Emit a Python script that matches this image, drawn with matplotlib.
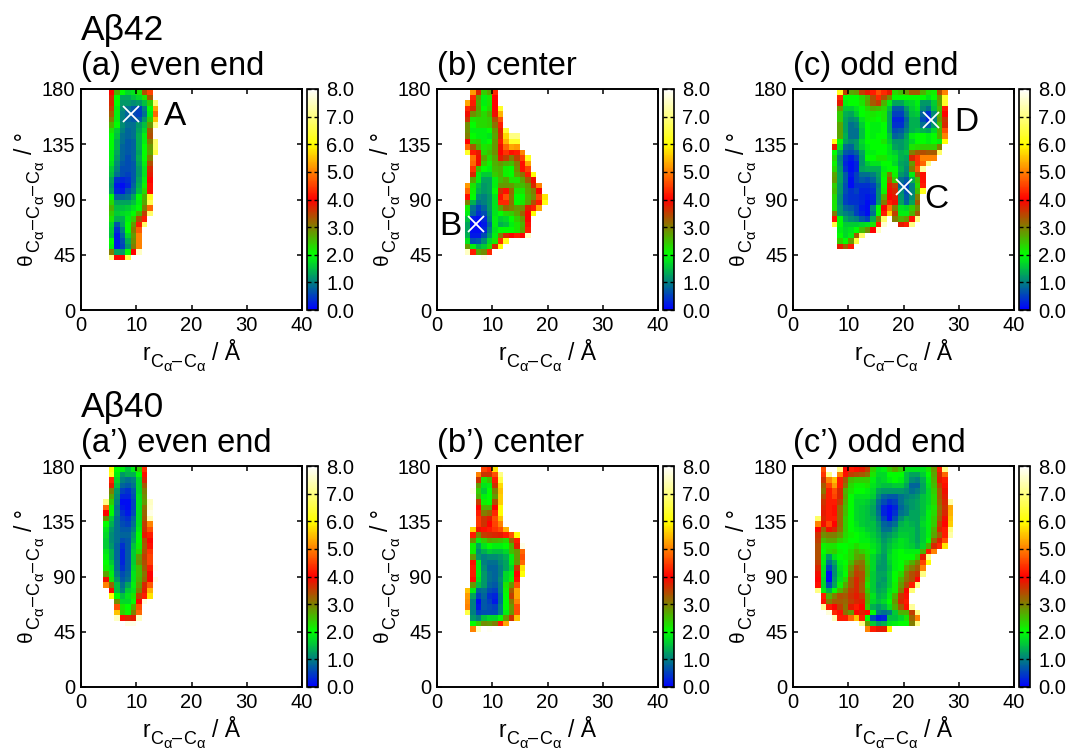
import numpy as np
import matplotlib
matplotlib.use("Agg")
import matplotlib.pyplot as plt
from matplotlib.colors import LinearSegmentedColormap

plt.rcParams['font.family'] = ['Liberation Sans', 'DejaVu Sans']

nan = float('nan')

# first r bin of each row, rows run from theta=180 downwards (1 A x 4.5 deg bins)
a42_first = [5]*24 + [5]*7
a42_rows = [
    [4.0,2.6,2.0,1.7,1.8,2.2,3.4,4.5],
    [3.7,2.0,1.3,1.3,1.5,1.7,2.2,3.3],
    [3.7,2.0,1.2,1.2,1.1,1.2,1.5,2.4,6.8],
    [3.5,1.9,1.1,0.9,0.7,0.5,1.0,2.0,5.3],
    [3.3,1.9,1.0,0.8,0.6,0.5,0.9,1.9,4.8],
    [3.0,1.9,1.0,0.8,0.7,0.7,1.2,2.4,5.5],
    [2.6,2.0,1.1,0.9,0.9,1.2,1.5,2.8,7.0],
    [2.2,1.6,1.0,0.8,0.9,1.3,1.7,3.3],
    [2.0,1.5,0.9,0.8,0.9,1.4,1.9,3.4],
    [2.0,1.4,0.9,0.7,0.8,1.4,1.9,3.0,6.8],
    [2.0,1.4,0.8,0.7,0.8,1.4,2.0,2.8,6.8],
    [1.9,1.3,0.8,0.7,0.8,1.3,2.0,2.7,6.5],
    [1.9,1.2,0.8,0.6,0.8,1.4,2.0,3.0],
    [1.8,1.1,0.7,0.6,0.7,1.3,1.9,3.4],
    [1.6,1.0,0.6,0.6,0.7,1.2,1.8,3.7],
    [1.5,0.9,0.6,0.5,0.7,1.2,1.8,3.8],
    [1.3,0.4,0.3,0.4,0.7,1.3,1.9,4.0],
    [1.2,0.2,0.1,0.3,0.8,1.4,2.1,4.1],
    [1.3,0.3,0.2,0.6,0.9,1.5,2.3,4.1],
    [2.0,0.8,0.8,0.9,1.3,2.0,2.6,6.2],
    [2.3,1.3,1.3,1.3,1.5,1.9,2.7,6.6],
    [2.6,1.5,1.5,1.6,1.8,2.0,3.0,4.8],
    [2.4,1.6,1.7,1.8,2.0,2.6,3.5,6.8],
    [2.2,1.4,1.4,1.9,2.4,3.4,4.2],
    [1.7,0.7,1.3,2.0,2.8,4.2,6.8],
    [1.6,0.4,1.0,2.0,3.0,4.7],
    [1.5,0.2,0.8,1.7,2.8,5.0],
    [2.0,0.2,0.6,1.4,2.9,5.0],
    [1.9,0.2,0.5,1.2,3.0,5.0],
    [3.0,1.3,1.2,2.0,4.0,7.5],
    [7.0,4.0,4.0,6.5],
]

b42_first = [6,6,5,5,5,5,5,5,5,5,5,5,6,6,6,6,6,5,5,5,5,5,5,5,5,5,5,5,5,5,7]
b42_rows = [
    [5.2,3.7,2.4,2.7,4.3],
    [4.3,2.8,1.9,2.2,4.0],
    [5.3,4.2,2.6,1.9,2.2,4.0],
    [4.3,3.7,2.7,2.0,2.3,4.0,6.3],
    [3.9,2.9,2.6,2.3,2.6,3.9,5.4],
    [3.6,2.2,2.3,2.3,2.4,3.4,4.6],
    [2.9,2.0,2.3,2.3,2.4,3.1,4.2],
    [2.9,1.9,1.9,1.9,2.0,2.8,3.8,6.4],
    [3.0,2.0,1.9,1.9,1.8,2.7,3.7,5.7,7.0,7.0],
    [4.0,2.3,2.4,1.9,2.0,2.8,4.2,5.4,6.3,6.3],
    [4.8,3.3,2.6,2.2,2.3,2.8,3.9,4.8,5.3,5.2],
    [6.3,4.2,3.8,2.3,2.5,2.9,4.0,4.4,4.1,4.2,5.0],
    [4.9,3.9,2.7,2.3,2.7,3.8,3.5,3.0,3.5,4.5,6.2],
    [4.8,3.9,2.4,2.1,2.6,2.8,2.6,2.5,3.0,4.1,5.3],
    [4.4,2.5,2.0,1.9,2.5,2.6,2.1,2.0,2.9,4.1,4.5],
    [3.7,1.9,1.6,1.6,2.4,2.6,2.1,2.0,2.7,3.1,4.2,6.0],
    [2.7,1.9,1.3,1.3,1.9,2.5,2.7,2.2,2.2,2.7,3.3,3.9],
    [5.2,2.2,1.5,1.2,1.3,1.9,2.8,2.8,2.8,2.5,2.5,2.8,3.7,5.0],
    [4.8,2.1,1.4,1.2,1.3,2.0,3.6,4.1,3.2,2.2,2.2,2.7,3.0,4.0],
    [4.1,2.0,1.1,1.0,1.2,1.8,4.1,4.6,3.1,2.0,2.0,2.6,2.9,4.5,5.8],
    [3.0,1.4,0.9,1.0,1.2,1.8,4.3,4.3,3.1,2.0,2.2,2.7,3.4,4.2,6.1],
    [2.1,0.9,0.5,0.8,1.2,1.8,2.7,3.2,3.0,2.8,2.9,3.8,4.2,5.3],
    [1.9,0.8,0.4,0.6,1.1,1.8,2.0,2.3,2.4,2.7,3.2,4.0,6.0],
    [1.5,0.2,0.1,0.3,1.0,1.9,1.6,1.7,2.0,2.4,2.8,4.0],
    [1.3,0.1,0.0,0.2,0.8,1.9,1.4,1.5,1.9,2.2,2.6,4.1],
    [1.3,0.1,0.1,0.3,1.0,1.8,2.0,2.0,2.0,2.2,2.7,4.2],
    [1.4,0.2,0.2,0.6,1.2,1.9,3.0,3.7,4.0,4.2,4.0,7.5],
    [1.8,0.6,0.7,1.1,1.7,2.2,4.4,6.2],
    [2.8,1.9,1.4,1.6,2.3,3.7,6.0],
    [7.5,4.2,2.7,2.9,4.3],
    [8.0,7.8],
]

c42_first = [8]*9 + [7]*16 + [8,8,8,8]
c42_rows = [
    [6.2,3.5,2.7,2.8,3.5,3.8,4.2,4.6,4.3,3.8,2.3,2.5,2.8,3.3,3.3,2.6,2.2,2.1,3.4,5.0],
    [4.3,2.0,2.0,2.0,2.3,2.6,3.4,4.3,3.4,2.9,2.0,2.0,2.0,2.0,2.0,2.0,1.8,2.0,2.8,6.3],
    [3.8,1.9,2.0,2.0,2.2,2.7,3.3,3.5,2.6,1.9,1.3,1.3,1.6,1.7,1.9,1.2,1.2,1.6,2.7,6.3],
    [2.8,1.6,1.6,1.8,2.0,2.3,2.6,2.5,2.3,1.5,0.7,0.7,1.2,1.6,1.8,1.1,0.9,1.5,2.5,4.2],
    [2.4,1.4,1.3,1.6,2.0,2.1,2.2,2.1,2.2,1.3,0.5,0.5,1.0,1.5,1.6,0.8,0.4,1.1,2.6,4.0],
    [2.4,1.3,1.1,1.2,1.8,2.1,2.1,2.0,2.2,1.3,0.3,0.3,0.8,1.4,1.4,0.6,0.3,1.0,2.8,3.6],
    [2.7,1.3,0.9,1.0,1.6,2.0,1.9,1.9,2.0,1.3,0.4,0.4,0.9,1.4,1.4,0.9,0.7,1.2,2.5,3.7],
    [2.7,1.3,0.9,0.9,1.5,2.0,1.9,1.9,2.0,1.3,0.6,0.7,1.0,1.4,1.5,1.4,1.3,1.7,2.6,4.6],
    [2.7,1.4,0.9,0.9,1.5,2.0,1.9,2.0,2.0,1.5,0.8,0.9,1.3,1.9,2.0,2.0,1.9,2.0,2.6,5.0],
    [6.1,2.0,1.3,1.1,1.2,1.7,2.0,2.0,2.0,2.2,1.6,1.2,1.2,1.4,1.7,2.0,2.0,1.9,2.0,1.9,6.0],
    [3.8,1.8,0.9,0.8,1.2,1.6,1.9,2.0,2.0,2.0,1.8,1.3,1.2,1.4,2.2,2.3,2.4,2.4,2.4,3.0],
    [2.0,1.3,0.7,0.6,0.8,1.3,1.9,1.9,2.0,2.0,1.8,1.6,1.4,1.5,3.0,3.3,3.4,3.3,3.3,6.8],
    [2.3,1.0,0.4,0.2,0.5,1.2,2.0,2.0,2.2,2.2,1.9,1.8,1.4,1.3,3.7,4.4,5.0,5.0,5.0],
    [2.1,1.1,0.3,0.1,0.3,1.2,1.6,1.8,1.8,2.0,2.0,1.7,1.3,1.2,2.8,4.4,4.8,7.0],
    [2.3,1.2,0.4,0.1,0.3,1.3,1.4,1.4,1.4,1.9,2.0,2.0,1.4,1.1,3.0,4.7,7.2],
    [2.7,1.3,0.7,0.2,0.5,0.9,0.9,1.0,1.3,2.1,3.0,2.1,1.2,1.0,1.9,3.3,4.1],
    [2.8,1.3,0.7,0.1,0.5,0.7,0.6,0.8,1.2,2.0,3.4,2.4,0.9,0.7,1.4,2.5,4.1],
    [2.4,1.2,0.6,0.1,0.4,0.4,0.4,0.5,1.0,2.0,3.8,3.5,0.8,0.5,1.0,2.3,4.2],
    [2.5,1.2,0.6,0.4,0.5,0.3,0.3,0.4,1.1,2.1,3.9,3.7,1.1,0.6,1.0,2.5,6.2],
    [2.3,1.1,0.5,0.4,0.4,0.3,0.2,0.3,1.1,2.6,4.0,3.8,1.2,0.7,1.1,3.0],
    [2.2,1.1,0.5,0.4,0.4,0.3,0.1,0.3,1.2,3.0,4.2,3.9,1.3,0.8,1.3,3.3],
    [2.2,1.2,0.8,0.7,0.5,0.2,0.1,1.0,2.0,4.0,4.9,3.0,1.8,1.7,2.4,2.9],
    [3.0,1.2,1.0,0.9,0.5,0.3,0.1,0.9,2.0,4.2,5.6,3.5,1.9,1.9,2.6,3.3],
    [4.1,2.0,1.3,1.1,1.0,0.7,0.5,1.4,3.0,6.8,nan,3.0,2.6,2.8,4.1,7.0],
    [6.5,2.0,1.6,1.6,1.6,1.7,1.8,2.2,4.2,7.6,nan,nan,3.8,4.2,7.0],
    [1.9,1.7,1.8,2.0,2.5,2.9,4.0,7.5],
    [2.0,1.7,1.9,3.3,6.8],
    [2.4,2.0,2.8,6.5],
    [3.8,3.3,4.2],
]

a40_first = [5]*6 + [4]*16 + [5,5,6,6,6,6,8]
a40_rows = [
    [6.0,2.0,1.9,1.5,1.9,2.4,4.4],
    [6.2,1.9,1.2,1.4,1.4,2.0,4.1],
    [4.3,1.7,1.0,0.9,1.0,1.7,3.7],
    [3.8,1.5,0.8,0.7,0.9,1.7,3.3],
    [3.0,1.2,0.5,0.4,0.7,1.7,3.0],
    [2.7,1.1,0.3,0.3,0.6,1.8,2.9],
    [7.0,2.4,1.0,0.1,0.1,0.5,1.8,2.8,7.5],
    [4.8,2.1,0.9,0.2,0.1,0.5,1.8,3.1,7.6],
    [4.0,2.0,1.0,0.4,0.2,0.6,1.8,3.2,7.8],
    [2.9,1.6,0.9,0.5,0.4,0.8,1.8,3.3,7.4],
    [2.0,1.4,0.9,0.6,0.5,0.9,1.8,3.5,5.0],
    [1.8,1.2,0.9,0.7,0.7,1.0,1.9,3.6,4.6],
    [1.7,1.1,0.9,0.8,0.8,1.2,2.0,3.8,4.2],
    [1.6,1.1,0.9,0.6,0.7,1.3,2.0,3.4,4.0],
    [1.6,1.2,0.8,0.4,0.7,1.5,2.1,3.3,4.1],
    [1.8,1.4,0.8,0.3,0.7,1.6,2.3,3.4,4.4],
    [1.9,1.4,0.8,0.3,0.7,1.6,2.8,3.5,4.5],
    [2.0,1.6,0.9,0.3,0.7,1.6,2.9,3.4,4.5],
    [2.1,1.8,0.9,0.4,0.7,1.7,2.5,3.3,4.2,7.9],
    [2.7,1.9,1.0,0.6,0.8,1.8,2.5,3.1,4.0,8.0],
    [3.9,2.2,1.2,0.7,0.9,1.8,2.6,3.2,4.0,7.8],
    [5.0,3.2,1.5,0.9,1.3,1.9,2.8,3.7,4.7],
    [4.0,1.5,1.0,1.6,1.8,3.0,3.8,5.4],
    [6.0,2.0,1.5,1.8,2.2,3.5,4.2,5.8],
    [2.9,1.7,1.7,2.0,4.0,7.7],
    [4.6,2.2,2.0,2.6,4.6],
    [5.5,2.4,2.1,3.0,4.8],
    [7.5,4.1,3.7,3.8,7.5],
    [7.8,7.8],
]

b40_first = [8,7,7,7,6,7,7,7,7,7,7,6,6,6,6,6,6,6,6,6,6,6,5,5,5,5,5,6,6,6]
b40_rows = [
    [4.5,4.3,5.8],
    [5.0,3.6,3.6,4.6,7.0],
    [3.6,2.2,2.5,4.2,6.5],
    [2.8,1.8,1.9,3.6,5.7],
    [7.8,2.4,1.6,2.0,3.0,5.5],
    [2.6,1.9,2.0,2.8,5.6],
    [3.5,2.1,2.0,3.4,5.6],
    [4.0,2.6,2.6,4.0,6.0],
    [4.2,3.0,3.2,4.3,6.0],
    [4.4,3.6,3.8,4.6,5.5],
    [4.4,3.6,4.0,4.5,5.0],
    [5.7,3.9,4.1,4.2,4.4,4.6,5.4],
    [4.2,2.9,3.5,3.6,3.7,3.8,4.2,4.6,6.0],
    [2.9,1.9,2.4,2.7,2.6,2.5,2.3,3.2,4.2],
    [2.1,1.3,1.8,2.0,1.9,1.9,2.0,2.6,3.8,7.8],
    [2.1,1.1,1.4,1.6,1.5,1.5,1.7,2.5,2.8,4.8],
    [2.8,1.2,1.0,1.1,1.1,1.2,1.4,1.9,2.8,4.6],
    [4.1,1.9,1.0,0.9,0.9,1.1,1.3,1.9,2.8,4.8],
    [4.2,1.9,1.1,0.8,0.8,1.0,1.3,1.7,3.6,5.8],
    [4.2,1.9,1.2,0.9,0.8,1.0,1.7,1.9,4.0,6.0],
    [4.1,1.8,1.2,0.9,0.8,1.1,1.7,2.1,4.1],
    [2.8,1.5,1.2,0.8,0.7,1.0,2.2,2.8,4.6],
    [5.5,1.9,0.8,0.9,0.6,0.5,1.0,2.1,3.3,5.3],
    [5.2,1.3,0.5,0.8,0.4,0.3,0.9,2.0,3.5,5.3],
    [5.1,1.0,0.1,0.7,0.5,0.2,0.9,2.0,3.0,5.0],
    [5.0,1.0,0.2,0.7,0.6,0.5,1.0,2.0,2.8,4.6],
    [6.5,1.0,0.5,0.6,0.6,0.6,1.0,1.9,2.8,4.6],
    [1.2,1.0,1.5,1.7,1.7,2.0,2.8,3.6,5.5],
    [2.0,2.4,2.9,2.8,3.0,4.2,5.3],
    [5.0,7.5,nan,7.9],
]

c40_first = [5]*9 + [4]*15 + [5,5,6,7,12,13]
c40_rows = [
    [4.6,nan,nan,7.0,4.0,4.2,4.1,3.8,3.5,2.4,1.8,1.9,2.4,2.7,2.4,1.8,1.8,1.8,1.8,2.2,2.8,4.2,7.0],
    [4.4,7.0,nan,5.0,4.1,3.5,3.4,3.3,3.1,2.2,1.7,1.7,2.0,2.0,2.0,1.5,1.3,1.3,1.6,2.0,2.7,3.7,4.8],
    [3.6,5.0,5.5,4.2,3.3,2.5,2.4,2.4,2.4,1.9,1.6,1.7,1.9,2.0,1.9,1.5,1.1,1.0,1.4,1.9,2.6,3.8,4.2],
    [3.3,4.5,5.2,4.2,3.1,2.3,2.1,2.1,2.2,1.8,1.6,1.5,1.5,1.6,1.6,1.3,0.8,0.8,1.3,1.8,2.5,3.5,4.1],
    [3.1,4.2,4.6,3.7,2.6,2.2,2.0,2.0,1.9,1.7,1.3,1.2,1.2,1.2,1.2,1.1,0.9,1.0,1.3,1.7,2.4,3.3,3.9],
    [3.4,4.2,4.5,3.7,2.7,2.0,1.8,1.8,1.8,1.6,1.1,0.8,0.7,0.7,0.9,1.0,1.1,1.2,1.5,1.7,2.3,3.3,3.8],
    [3.6,4.2,4.2,3.5,2.6,2.0,1.7,1.7,1.6,1.4,0.9,0.6,0.4,0.5,0.9,1.1,1.2,1.3,1.5,1.7,2.3,3.2,3.7,7.3],
    [3.7,4.2,4.1,3.2,2.5,2.0,1.7,1.6,1.5,1.3,0.8,0.3,0.1,0.3,0.8,1.0,1.2,1.3,1.5,1.8,2.2,3.1,3.6,5.3],
    [3.8,4.2,4.1,3.2,2.5,2.0,1.7,1.6,1.5,1.3,0.9,0.3,0.1,0.4,0.9,1.0,1.3,1.3,1.5,1.9,2.3,3.2,3.7,5.4],
    [6.8,3.7,4.2,4.2,3.2,2.4,2.0,1.7,1.6,1.5,1.4,1.0,0.5,0.1,0.6,1.1,1.4,1.3,1.3,1.6,1.9,2.4,3.3,3.9,5.5],
    [5.0,3.9,4.5,4.0,3.2,2.4,2.0,1.8,1.6,1.5,1.5,1.2,0.8,0.7,0.9,1.4,1.5,1.4,1.3,1.7,1.9,2.4,3.5,4.0,5.6],
    [4.0,3.2,3.9,3.7,3.1,2.4,2.0,1.9,1.8,1.6,1.5,1.3,0.9,0.9,1.2,1.5,1.5,1.5,1.3,1.6,1.9,2.6,3.7,4.2,7.0],
    [3.6,2.9,3.0,3.0,2.8,2.3,2.1,2.0,1.9,1.8,1.6,1.4,1.1,1.2,1.4,1.6,1.6,1.5,1.3,1.6,1.9,2.7,3.3,4.2,7.3],
    [3.5,2.5,2.7,2.7,2.4,2.2,2.0,2.0,1.9,1.9,1.7,1.5,1.2,1.4,1.6,1.8,1.7,1.5,1.3,1.6,2.0,3.2,3.8,4.6],
    [3.4,2.1,2.2,2.2,2.0,2.0,2.1,2.3,2.1,2.1,1.8,1.6,1.3,1.5,1.7,1.8,1.7,1.6,1.4,1.7,2.6,3.7,4.3,5.8],
    [3.4,2.0,2.3,2.4,2.1,2.0,2.3,2.6,2.4,2.2,1.9,1.6,1.3,1.6,1.9,2.0,1.9,1.9,1.9,2.6,4.2,5.0],
    [3.4,1.9,1.2,1.8,2.0,2.1,2.3,2.7,2.8,2.3,1.7,1.4,1.2,1.7,1.9,2.0,2.0,2.0,2.4,3.8,7.0],
    [3.5,1.9,0.9,1.3,1.9,2.0,2.5,3.0,3.1,2.4,1.7,1.3,1.2,1.6,1.9,2.0,2.3,2.6,3.0,4.5,6.0],
    [3.7,1.8,0.5,1.1,1.8,2.1,2.8,3.4,3.2,2.5,1.7,1.2,1.2,1.5,1.9,2.0,2.7,3.0,3.3,5.0],
    [3.9,1.8,0.1,1.1,1.7,2.0,3.0,3.5,3.4,2.5,1.6,1.3,1.3,1.6,2.0,2.3,3.0,3.4,3.6,7.0],
    [4.0,1.7,0.1,1.2,1.8,2.3,3.3,3.7,3.4,2.4,1.6,1.3,1.2,1.6,2.0,2.6,3.1,3.4,4.0],
    [4.1,1.7,0.6,1.3,2.1,2.7,3.3,3.7,3.3,2.2,1.6,1.2,1.3,1.6,2.1,2.8,3.4,4.2,7.0],
    [7.0,1.9,1.4,2.0,2.6,3.0,3.5,3.7,3.3,2.4,1.6,1.3,1.4,1.8,2.1,3.0,4.0,6.9],
    [nan,4.2,2.6,3.0,3.4,3.3,3.6,3.8,3.6,2.6,1.8,1.4,1.5,1.9,2.6,3.6,4.1],
    [4.1,3.0,3.3,3.3,3.2,3.5,3.7,3.8,2.6,1.7,1.5,1.7,2.0,2.8,3.7,4.2],
    [7.2,4.2,4.0,3.5,3.1,3.8,4.2,4.0,2.4,1.4,1.2,1.4,1.8,2.6,3.3,4.1,7.2],
    [7.7,4.3,4.1,3.1,2.8,4.0,3.8,4.0,2.0,1.0,0.9,1.0,1.6,2.6,2.6,3.5,7.0],
    [7.4,4.2,4.2,4.8,5.5,4.2,2.0,0.6,0.2,0.3,1.5,1.5,1.7,2.2,3.2,5.0],
    [7.0,2.8,1.6,1.2,1.4,1.8,1.9,2.0,2.0,3.0,7.0],
    [5.0,4.2,3.8,3.8,5.9],
]

titles = ["(a) even end", "(b) center", "(c) odd end", "(a’) even end", "(b’) center", "(c’) odd end"]
firsts = [a42_first, b42_first, c42_first, a40_first, b40_first, c40_first]
rows = [a42_rows, b42_rows, c42_rows, a40_rows, b40_rows, c40_rows]

x_ticks = [0, 10, 20, 30, 40]
y_ticks = [0, 45, 90, 135, 180]
cbar_ticks = [0, 1, 2, 3, 4, 5, 6, 7, 8]
cbar_colors = [(0,0,1), (0,0.5,0.5), (0,1,0), (0.5,0.5,0), (1,0,0), (1,0.5,0), (1,1,0), (1,1,0.5), (1,1,1)]

cross_panel = [0, 1, 2, 2]
cross_r = [9, 7, 25, 20]
cross_theta = [160, 70, 155, 100]
letters = ["A", "B", "D", "C"]
letter_r = [17, 2.4, 31.3, 26]
letter_theta = [158, 68, 153, 90]

W, H = 1069, 750
cmap = LinearSegmentedColormap.from_list("fes", cbar_colors, N=256)
r_edges = np.arange(0, 41)
t_edges = np.arange(0, 181, 4.5)


def build_grid(first, vals):
    grid = np.full((40, 40), np.nan)
    for i, (start, row) in enumerate(zip(first, vals)):
        for j, v in enumerate(row):
            grid[39 - i, start + j] = v
    return grid


def box(x0, y0, x1, y1):
    return [x0 / W, 1 - y1 / H, (x1 - x0) / W, (y1 - y0) / H]


# mathtext shrinks the nested subscripts too much, so the labels are set piece by piece
def chain_label(pieces, x, y, vertical=False, pad=0.5):
    renderer = fig.canvas.get_renderer()
    for s, size, drop, gap in pieces:
        if vertical:
            t = fig.text((x + drop) / W, 1 - (y - gap) / H, s, fontsize=size, ha='left', va='baseline')
        else:
            t = fig.text((x + gap) / W, 1 - (y + drop) / H, s, fontsize=size, ha='left', va='baseline')
        w = t.get_window_extent(renderer).width + pad
        if vertical:
            t.set_rotation(90)
            t.set_rotation_mode('anchor')
            y -= w + gap
        else:
            x += w + gap


sub = [("C", 13, 7, 0), ("α", 10.5, 11, 0)]
dash = [("–", 13, 6, 0)]
xlab = [("r", 16.5, 0, 0)] + sub + dash + sub + [("/ Å", 16.5, 0, 6)]
ylab = [("θ", 15, 0, 0)] + sub + dash + sub + dash + sub + [("/ °", 16.5, 0, 6)]

fig = plt.figure(figsize=(W / 100, H / 100), dpi=100)
left = [81, 437, 793]
top = [89, 466]

axs = []
for k in range(6):
    x0 = left[k % 3]
    y0 = top[k // 3]
    ax = fig.add_axes(box(x0, y0, x0 + 221, y0 + 221))
    mesh = ax.pcolormesh(r_edges, t_edges, build_grid(firsts[k], rows[k]), cmap=cmap, vmin=0, vmax=8)
    ax.set_xlim(0, 40)
    ax.set_ylim(0, 180)
    ax.set_xticks(x_ticks)
    ax.set_yticks(y_ticks)
    ax.tick_params(direction='in', top=True, right=True, length=3.5, width=1.1, labelsize=14.5, pad=4)
    for s in ax.spines.values():
        s.set_linewidth(1.4)
    chain_label(xlab, x0 + 61, y0 + 271)
    chain_label(ylab, x0 - 49, y0 + 176, vertical=True, pad=1)
    fig.text(x0 / W, 1 - (y0 - 14) / H, titles[k], fontsize=23.5, ha='left', va='baseline')
    axs.append(ax)

    cax = fig.add_axes(box(x0 + 226, y0, x0 + 237, y0 + 221))
    cb = fig.colorbar(mesh, cax=cax, ticks=cbar_ticks, format='%.1f')
    cb.ax.tick_params(direction='in', left=True, right=True, length=3, width=1, labelsize=14.5, pad=6)
    cb.outline.set_linewidth(1.2)

for p, r, t in zip(cross_panel, cross_r, cross_theta):
    axs[p].plot(r, t, marker='x', color='white', markersize=11, markeredgewidth=1.3, linestyle='none')
for p, s, r, t in zip(cross_panel, letters, letter_r, letter_theta):
    axs[p].text(r, t, s, fontsize=24, ha='center', va='center')

fig.text(81 / W, 1 - 40 / H, "Aβ42", fontsize=25.5, ha='left', va='baseline')
fig.text(81 / W, 1 - 417 / H, "Aβ40", fontsize=25.5, ha='left', va='baseline')

fig.savefig("out.png", dpi=100)
